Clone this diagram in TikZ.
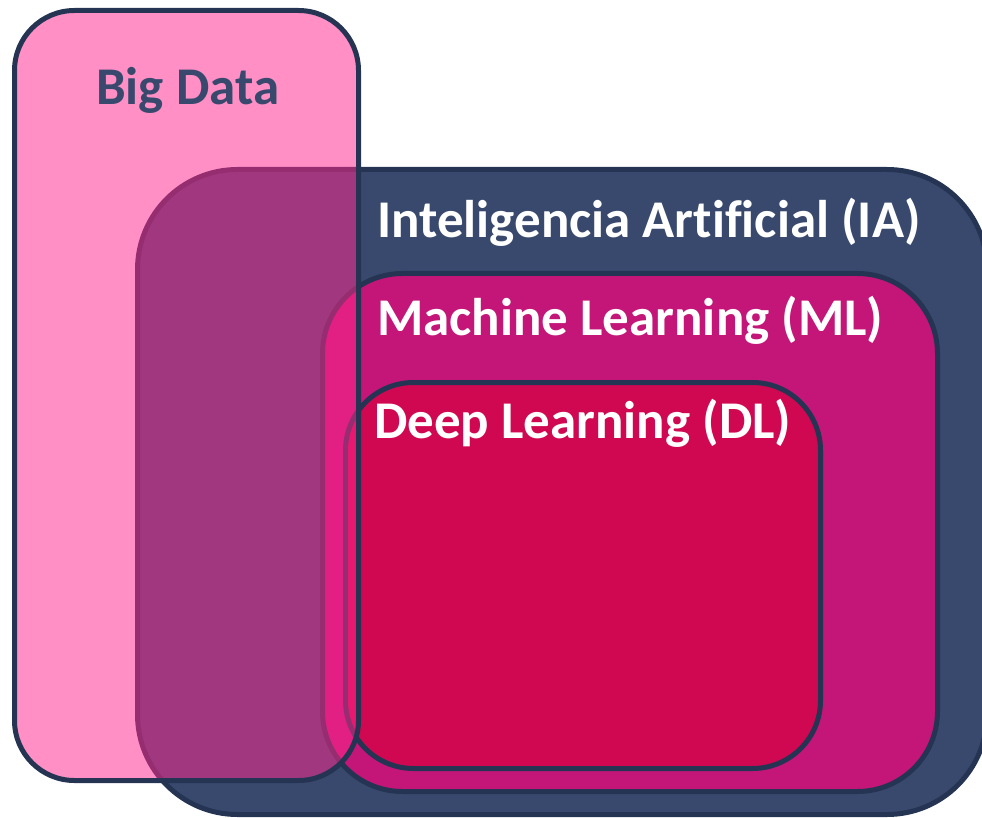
\documentclass[tikz,border=0pt]{standalone}
\usepackage{fontspec}
\setmainfont{Carlito}[Ligatures=CommonOff]
\definecolor{navyfill}{RGB}{57,73,110}
\definecolor{navyline}{RGB}{37,52,82}
\definecolor{mlfill}{RGB}{195,22,120}
\definecolor{dlfill}{RGB}{208,8,82}
\definecolor{bigfill}{RGB}{255,40,143}

\begin{document}
\begin{tikzpicture}[x=1pt, y=-1pt,
	box/.style={draw=navyline, line width=5pt},
	title/.style={anchor=base west, inner sep=0pt, font=\fontsize{53}{63}\selectfont\bfseries}]
	\useasboundingbox (0,0) rectangle (982,818);
	\coordinate (bdtl) at (14.5,10.5); \coordinate (bdbr) at (358.5,780.5);
	\coordinate (iatl) at (137.5,169.5); \coordinate (iabr) at (987,814.5);
	\coordinate (mltl) at (322.5,273.5); \coordinate (mlbr) at (937.5,791.5);
	\coordinate (dltl) at (345.5,382.5); \coordinate (dlbr) at (820.5,768.5);
	\begin{scope}
	\clip (0,0) rectangle (982,818);
	\draw[box, fill=navyfill, rounded corners=100pt] (iatl) rectangle (iabr);
	\draw[box, fill=mlfill, rounded corners=80pt] (mltl) rectangle (mlbr);
	\draw[box, fill=dlfill, rounded corners=68pt] (dltl) rectangle (dlbr);
	\draw[box, fill=bigfill, fill opacity=0.52, rounded corners=60pt] (bdtl) rectangle (bdbr);
	\end{scope}
	\node[title, text=navyfill] (bigdata) at (96,105) {Big Data};
	\node[title, text=white] (ia) at (377,238) {Inteligencia Artificial (IA)};
	\node[title, text=white] (ml) at (377,335) {Machine Learning (ML)};
	\node[title, text=white] (dl) at (374,438) {Deep Learning (DL)};
\end{tikzpicture}
\end{document}
